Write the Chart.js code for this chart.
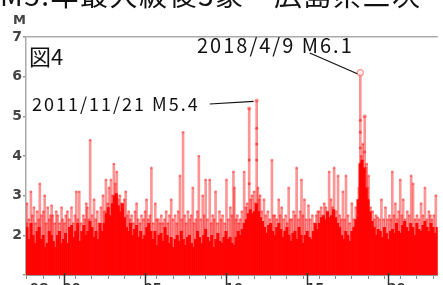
<!DOCTYPE html>
<html>
<head>
<meta charset="utf-8">
<script src="https://cdn.jsdelivr.net/npm/chart.js@4"></script>
<style>
html, body { margin: 0; padding: 0; background: #fff; overflow: hidden; }
#wrap { position: relative; width: 443px; height: 285px; overflow: hidden; }
#c { position: absolute; left: 0; top: 0; }
#title { position: absolute; left: 0; top: -20px; font: 28px/28px "Noto Sans CJK JP"; color: #111; white-space: nowrap; letter-spacing: 1.5px; }
</style>
</head>
<body>
<div id="wrap">
  <canvas id="c" width="443" height="300"></canvas>
  <div id="title">M5.年最大級後3象・広島県三次</div>
</div>
<script>
// events: decimal year + magnitude
var eventYears = [1997.72,1997.75,1997.86,1997.99,1998.08,1998.18,1998.27,1998.38,1998.47,1998.54,1998.64,1998.76,1998.84,1998.93,
  1999.03,1999.12,1999.20,1999.27,1999.33,1999.45,1999.55,1999.64,1999.76,1999.88,1999.94,
  2000.05,2000.14,2000.24,2000.35,2000.49,2000.60,2000.70,2000.79,2000.88,2000.97,
  2001.08,2001.22,2001.31,2001.40,2001.46,2001.56,2001.64,2001.76,2001.88,2001.98,
  2002.08,2002.19,2002.30,2002.43,2002.52,2002.61,2002.72,2002.80,2002.92,
  2003.02,2003.10,2003.19,2003.28,2003.37,2003.47,2003.56,2003.65,2003.74,2003.83,2003.93,
  2004.01,2004.10,2004.19,2004.30,2004.40,2004.50,2004.60,2004.70,2004.80,2004.92,
  2005.02,2005.11,2005.22,2005.32,2005.41,2005.52,2005.65,2005.74,2005.84,2005.93,
  2006.02,2006.12,2006.22,2006.32,2006.42,2006.52,2006.63,2006.74,2006.87,2006.97,
  2007.06,2007.17,2007.27,2007.36,2007.46,2007.56,2007.66,2007.76,2007.86,2007.96,
  2008.05,2008.15,2008.24,2008.33,2008.45,2008.57,2008.66,2008.75,2008.86,
  2009.00,2009.09,2009.18,2009.27,2009.36,2009.48,2009.60,2009.70,2009.79,2009.92,
  2010.03,2010.14,2010.27,2010.36,2010.46,2010.52,2010.62,2010.70,2010.80,2010.88,2010.98,
  2011.12,2011.22,2011.31,2011.43,2011.52,2011.61,2011.73,2011.81,2011.89,2011.97,
  2012.04,2012.10,2012.20,2012.34,2012.45,2012.58,2012.70,2012.83,2012.92,
  2013.01,2013.12,2013.25,2013.34,2013.43,2013.55,2013.68,2013.77,2013.86,2013.95,
  2014.04,2014.16,2014.26,2014.35,2014.46,2014.56,2014.65,2014.74,2014.83,2014.95,
  2015.08,2015.18,2015.32,2015.44,2015.56,2015.65,2015.74,2015.86,2015.96,
  2016.05,2016.14,2016.24,2016.35,2016.47,2016.56,2016.66,2016.78,2016.90,
  2017.00,2017.10,2017.20,2017.30,2017.39,2017.51,2017.62,2017.75,2017.87,2017.99,
  2018.10,2018.18,2018.27,2018.33,2018.42,2018.54,2018.61,2018.66,2018.72,2018.78,2018.90,
  2019.03,2019.14,2019.23,2019.33,2019.45,2019.57,2019.70,2019.82,2019.94,
  2020.06,2020.15,2020.24,2020.34,2020.43,2020.55,2020.63,2020.73,2020.82,2020.91,
  2021.03,2021.16,2021.28,2021.40,2021.52,2021.64,2021.76,2021.88,
  2022.01,2022.12,2022.25,2022.37,2022.49,2022.58,2022.67,2022.80,2022.92];
var eventMags = [2.3,2.8,2.4,3.1,2.5,2.7,2.3,2.6,2.4,3.3,2.5,2.6,3.0,2.3,
  2.7,2.4,2.5,2.75,2.5,2.3,2.6,2.5,2.3,2.7,2.4,
  2.3,2.5,2.6,2.4,2.7,2.3,2.5,3.1,2.4,3.1,
  2.3,2.5,2.4,2.8,2.7,2.4,4.4,2.5,2.9,2.4,
  2.6,2.3,2.7,3.0,2.6,3.4,2.8,3.2,3.4,
  3.0,3.8,3.3,3.6,2.9,3.0,2.8,2.7,2.9,3.1,2.5,
  2.6,2.4,2.5,2.3,2.6,2.8,2.4,2.3,2.5,2.4,
  2.6,2.9,2.4,2.5,3.7,2.3,2.8,2.4,2.4,2.3,
  2.5,2.3,2.4,2.6,2.3,2.5,2.9,2.4,2.5,2.3,
  2.6,3.5,2.4,4.6,2.5,2.3,2.6,2.4,2.5,3.2,
  2.3,2.4,2.6,4.0,2.4,3.0,2.5,3.4,2.4,
  3.4,2.3,2.5,2.4,3.1,2.3,2.6,2.4,2.5,2.3,
  3.4,2.4,2.7,2.5,3.6,3.2,2.4,2.5,2.3,2.4,2.6,
  3.6,2.7,2.8,5.2,2.9,3.0,3.1,2.8,5.4,3.2,
  2.9,3.0,2.6,2.9,2.5,2.6,2.4,3.9,2.5,
  2.5,2.4,2.9,2.5,2.7,2.4,2.5,2.3,3.2,2.4,
  2.4,2.6,2.5,3.7,2.4,2.6,3.4,2.5,2.9,2.4,
  2.75,2.4,2.5,2.3,2.5,2.6,2.6,2.7,2.5,
  2.8,2.7,2.6,3.6,2.9,2.7,3.7,2.6,3.5,
  2.5,2.4,3.1,2.4,3.5,2.5,2.3,2.8,2.4,2.7,
  2.5,3.2,6.1,4.0,4.3,5.0,3.7,3.8,3.2,3.5,2.7,
  2.6,2.4,2.5,2.45,2.4,2.9,2.4,2.7,2.4,
  2.5,2.4,3.6,2.5,2.8,2.4,2.6,3.4,2.5,2.9,
  2.4,2.6,2.5,3.5,3.3,2.4,2.5,2.4,
  2.8,2.5,3.2,2.4,2.6,2.5,2.4,2.5,3.0];

// extra events sitting on the same stems (aftershocks)
var stackYears = [2011.43,2011.43,2011.89,2011.89,2011.89,2018.27,2018.27,2018.27,2018.27,2018.54,2018.54];
var stackMags = [3.9,3.3,4.7,4.3,3.9,4.9,4.6,4.2,3.8,4.1,3.6];

// top of the dense swarm of small events, every eighth of a year
var denseYears = [1997.75,1997.875,1998,1998.125,1998.25,1998.375,1998.5,1998.625,1998.75,1998.875,
  1999,1999.125,1999.25,1999.375,1999.5,1999.625,1999.75,1999.875,
  2000,2000.125,2000.25,2000.375,2000.5,2000.625,2000.75,2000.875,
  2001,2001.125,2001.25,2001.375,2001.5,2001.625,2001.75,2001.875,
  2002,2002.125,2002.25,2002.375,2002.5,2002.625,2002.75,2002.875,
  2003,2003.125,2003.25,2003.375,2003.5,2003.625,2003.75,2003.875,
  2004,2004.125,2004.25,2004.375,2004.5,2004.625,2004.75,2004.875,
  2005,2005.125,2005.25,2005.375,2005.5,2005.625,2005.75,2005.875,
  2006,2006.125,2006.25,2006.375,2006.5,2006.625,2006.75,2006.875,
  2007,2007.125,2007.25,2007.375,2007.5,2007.625,2007.75,2007.875,
  2008,2008.125,2008.25,2008.375,2008.5,2008.625,2008.75,2008.875,
  2009,2009.125,2009.25,2009.375,2009.5,2009.625,2009.75,2009.875,
  2010,2010.125,2010.25,2010.375,2010.5,2010.625,2010.75,2010.875,
  2011,2011.125,2011.25,2011.375,2011.5,2011.625,2011.75,2011.875,
  2012,2012.125,2012.25,2012.375,2012.5,2012.625,2012.75,2012.875,
  2013,2013.125,2013.25,2013.375,2013.5,2013.625,2013.75,2013.875,
  2014,2014.125,2014.25,2014.375,2014.5,2014.625,2014.75,2014.875,
  2015,2015.125,2015.25,2015.375,2015.5,2015.625,2015.75,2015.875,
  2016,2016.125,2016.25,2016.375,2016.5,2016.625,2016.75,2016.875,
  2017,2017.125,2017.25,2017.375,2017.5,2017.625,2017.75,2017.875,
  2018,2018.125,2018.25,2018.375,2018.5,2018.625,2018.75,2018.875,
  2019,2019.125,2019.25,2019.375,2019.5,2019.625,2019.75,2019.875,
  2020,2020.125,2020.25,2020.375,2020.5,2020.625,2020.75,2020.875,
  2021,2021.125,2021.25,2021.375,2021.5,2021.625,2021.75,2021.875,
  2022,2022.125,2022.25,2022.375,2022.5,2022.625,2022.75,2022.875,
  2023];
var denseMags = [2.2,1.9,2.3,2.0,1.8,2.1,2.2,1.9,2.0,1.7,
  1.8,2.1,2.0,1.85,1.7,2.0,2.1,1.8,
  1.9,2.05,1.8,2.2,2.25,1.95,2.1,2.3,
  1.85,2.1,2.25,2.0,2.1,2.35,2.2,1.95,
  2.1,1.9,2.3,2.1,2.3,2.55,2.7,2.5,
  2.8,3.0,3.05,2.75,2.6,2.8,2.45,2.2,
  2.1,2.3,2.0,2.15,2.25,1.95,2.1,1.9,
  2.0,2.2,2.3,2.1,1.9,2.1,1.75,2.0,
  2.05,1.85,2.2,2.0,1.8,1.95,1.7,1.9,
  2.0,1.85,2.1,1.9,1.75,1.95,2.0,1.8,
  1.7,1.9,2.1,1.95,1.8,2.0,2.15,1.95,
  1.85,2.0,1.7,1.9,2.05,1.85,1.8,1.95,
  2.1,1.9,1.95,1.8,1.75,1.95,2.1,2.0,
  2.15,2.3,2.4,2.55,2.65,2.55,2.6,2.8,
  2.6,2.45,2.35,2.2,2.05,2.25,2.3,2.1,
  2.0,2.2,2.3,2.15,1.95,2.1,2.2,2.0,
  1.85,2.05,2.1,1.9,2.2,2.0,1.8,2.0,
  2.1,1.95,1.9,2.1,2.3,2.15,2.3,2.45,
  2.5,2.4,2.6,2.45,2.5,2.65,2.45,2.3,
  2.2,2.0,1.9,2.1,2.0,1.85,2.1,2.2,
  2.4,2.9,3.8,3.9,3.7,3.2,2.9,2.6,
  2.35,2.2,2.0,2.15,2.1,1.95,2.2,2.05,
  1.9,2.1,2.15,2.05,2.3,2.1,2.05,2.25,
  2.35,2.2,2.1,2.3,2.2,2.0,2.3,2.15,
  2.1,2.25,2.35,2.2,2.1,2.3,2.2,2.05,
  2.2];

var yearLabels = { 1998.5: '98', 2000.5: '00', 2005.5: '05', 2010.5: '10', 2015.5: '15', 2020.5: '20' };
var majorYears = [2000, 2005, 2010, 2015, 2020];

var notes = [
  { text: '2011/11/21 M5.4', year: 2011.89, mag: 5.4, size: 18, tx: 32, ty: 111, lx: 10, ly: -7 },
  { text: '2018/4/9 M6.1', year: 2018.27, mag: 6.1, size: 20, tx: 197, ty: 53, lx: 0, ly: 0 }
];

function pairs(xs, ys) {
  return xs.map(function (v, i) { return { x: v, y: ys[i] }; });
}

var annotate = {
  id: 'annotate',
  afterDraw: function (chart) {
    var ctx = chart.ctx, xs = chart.scales.x, ys = chart.scales.y;
    ctx.save();
    // long ticks every 5 years
    ctx.strokeStyle = '#333';
    ctx.lineWidth = 1.5;
    majorYears.forEach(function (v) {
      var px = Math.round(xs.getPixelForValue(v)) + 0.5;
      ctx.beginPath();
      ctx.moveTo(px, ys.bottom - 2);
      ctx.lineTo(px, ys.bottom + 10);
      ctx.stroke();
    });
    ctx.fillStyle = '#444';
    ctx.font = 'bold 13px "DejaVu Sans"';
    ctx.fillText('M', 13, 24);
    ctx.fillStyle = '#111';
    ctx.font = '22px "Noto Sans CJK JP"';
    ctx.fillText('図4', 29, 65);
    ctx.letterSpacing = '2px';
    notes.forEach(function (n) {
      ctx.font = n.size + 'px "Noto Sans CJK JP"';
      ctx.fillStyle = '#111';
      ctx.fillText(n.text, n.tx, n.ty);
      var sx, sy;
      if (n.lx) {
        sx = n.tx + ctx.measureText(n.text).width + n.lx;
        sy = n.ty + n.ly;
      } else {
        sx = n.tx + ctx.measureText(n.text.split(' ')[0] + ' ').width + 8;
        sy = n.ty;
      }
      ctx.strokeStyle = '#111';
      ctx.lineWidth = 1.2;
      ctx.beginPath();
      ctx.moveTo(sx, sy);
      ctx.lineTo(xs.getPixelForValue(n.year) - 3, ys.getPixelForValue(n.mag) + 1);
      ctx.stroke();
    });
    ctx.restore();
  }
};

new Chart(document.getElementById('c'), {
  type: 'bar',
  data: {
    datasets: [
      {
        type: 'scatter',
        data: pairs(eventYears, eventMags),
        pointRadius: function (c) { return !c.raw ? 1.3 : c.raw.y >= 6 ? 3 : c.raw.y >= 5 ? 2 : 1.3; },
        pointBackgroundColor: function (c) { return c.raw && c.raw.y >= 6 ? 'rgba(255,255,255,0.7)' : 'rgba(255,40,40,0.5)'; },
        pointBorderColor: 'rgba(255,70,70,0.6)',
        pointBorderWidth: function (c) { return c.raw && c.raw.y >= 6 ? 1.2 : 0; }
      },
      {
        type: 'scatter',
        data: pairs(stackYears, stackMags),
        pointRadius: 1.5,
        pointBackgroundColor: 'rgba(255,0,0,0.55)',
        pointBorderWidth: 0
      },
      {
        data: pairs(eventYears, eventMags),
        backgroundColor: 'rgba(255,0,0,0.42)',
        barThickness: 2,
        grouped: false
      },
      {
        data: pairs(denseYears, denseMags),
        backgroundColor: 'rgba(255,0,0,0.95)',
        barThickness: 2.4,
        grouped: false
      }
    ]
  },
  options: {
    responsive: false,
    animation: false,
    layout: { padding: { top: 37, left: 0, right: 0, bottom: 0 } },
    plugins: { legend: { display: false }, tooltip: { enabled: false } },
    scales: {
      x: {
        type: 'linear',
        min: 1997.69,
        max: 2023.04,
        offset: false,
        afterFit: function (s) { s.height = 25; },
        border: { color: '#999', width: 1 },
        grid: {
          drawOnChartArea: false,
          tickLength: 4,
          tickColor: function (c) { return c.tick && c.tick.value % 1 === 0 ? '#888' : 'rgba(0,0,0,0)'; }
        },
        ticks: {
          stepSize: 0.5,
          includeBounds: false,
          autoSkip: false,
          maxRotation: 0,
          padding: 2,
          color: '#333',
          font: { family: 'DejaVu Sans', size: 13, weight: 'bold' },
          callback: function (v) { return yearLabels[v] || ''; }
        }
      },
      y: {
        min: 1,
        max: 7,
        afterFit: function (s) { s.width = 26; },
        border: { color: '#aaa', width: 1.5 },
        grid: {
          color: function (c) { return c.tick && c.tick.value === 7 ? '#aaa' : 'rgba(0,0,0,0)'; },
          lineWidth: 1.5,
          tickLength: 3,
          tickColor: '#999'
        },
        ticks: {
          stepSize: 1,
          padding: 1,
          color: '#444',
          font: { family: 'DejaVu Sans', size: 14, weight: 'bold' },
          callback: function (v) { return v === 1 ? '' : v; }
        }
      }
    }
  },
  plugins: [annotate]
});
</script>
</body>
</html>
